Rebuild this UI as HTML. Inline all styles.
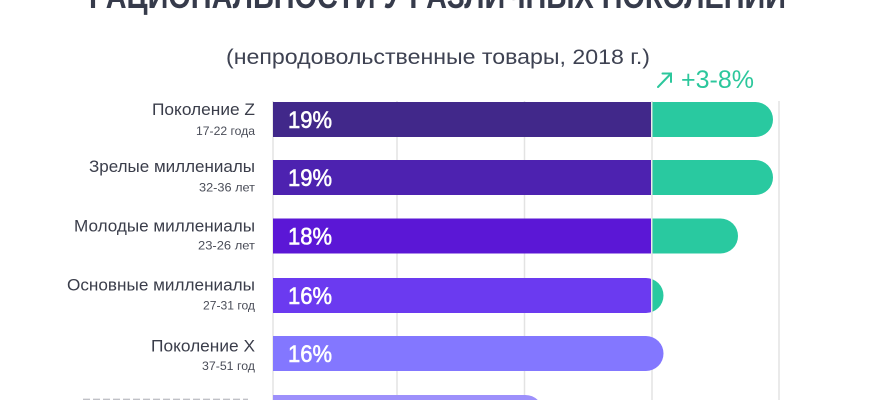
<!DOCTYPE html>
<html><head><meta charset="utf-8">
<style>
html,body{margin:0;padding:0;background:#fff;width:870px;height:400px;overflow:hidden;}
svg{display:block;overflow:hidden;}
text{font-family:"Liberation Sans","DejaVu Sans",sans-serif;}
</style></head>
<body>
<svg width="870" height="400" viewBox="0 0 870 400" xmlns="http://www.w3.org/2000/svg">
<defs>
<clipPath id="c1"><path d="M273,102 H755.5 A17.5,17.5 0 0 1 755.5,137 H273 Z"/></clipPath>
<clipPath id="c2"><path d="M273,160 H755.5 A17.5,17.5 0 0 1 755.5,195 H273 Z"/></clipPath>
<clipPath id="c3"><path d="M273,218.5 H720.5 A17.5,17.5 0 0 1 720.5,253.5 H273 Z"/></clipPath>
<clipPath id="c4"><path d="M273,278 H646 A17.5,17.5 0 0 1 646,313 H273 Z"/></clipPath>
</defs>

<!-- title (cut off) -->
<text x="89" y="8" font-size="34" font-weight="bold" fill="#363b4b" textLength="697" lengthAdjust="spacingAndGlyphs">РАЦИОНАЛЬНОСТИ У РАЗЛИЧНЫХ ПОКОЛЕНИЙ</text>
<!-- subtitle -->
<text x="226" y="64" font-size="21" fill="#3e4252" textLength="424" lengthAdjust="spacingAndGlyphs">(непродовольственные товары, 2018 г.)</text>

<!-- green header -->
<g stroke="#2cc79c" stroke-width="2" fill="none" stroke-linecap="round">
<line x1="658" y1="87" x2="671" y2="73.5"/>
<polyline points="662.5,73.5 671,73.5 671,82"/>
</g>
<text x="681" y="88" font-size="25" fill="#2cc79c" textLength="73" lengthAdjust="spacingAndGlyphs">+3-8%</text>

<!-- grid lines -->
<g stroke="#e3e3e3" stroke-width="1.5">
<line x1="273" y1="101" x2="273" y2="400"/>
<line x1="397" y1="101" x2="397" y2="400"/>
<line x1="524.5" y1="101" x2="524.5" y2="400"/>
<line x1="652" y1="101" x2="652" y2="400"/>
<line x1="779" y1="101" x2="779" y2="400"/>
</g>

<!-- bars -->
<g clip-path="url(#c1)">
<rect x="273" y="102" width="378" height="35" fill="#41288a"/>
<rect x="652.5" y="102" width="130" height="35" fill="#29c9a0"/>
</g>
<g clip-path="url(#c2)">
<rect x="273" y="160" width="378" height="35" fill="#4d22b0"/>
<rect x="652.5" y="160" width="130" height="35" fill="#29c9a0"/>
</g>
<g clip-path="url(#c3)">
<rect x="273" y="218.5" width="378" height="35" fill="#5b17d6"/>
<rect x="652.5" y="218.5" width="100" height="35" fill="#29c9a0"/>
</g>
<g clip-path="url(#c4)">
<rect x="273" y="278" width="378" height="35" fill="#6b3af0"/>
<rect x="652.5" y="278" width="30" height="35" fill="#29c9a0"/>
</g>
<path d="M273,336 H646 A17.5,17.5 0 0 1 646,371 H273 Z" fill="#8377ff"/>
<path d="M273,395 H525.5 A17.5,17.5 0 0 1 537.75,400 H273 Z" fill="#9d90fb"/>

<!-- percent labels -->
<g font-size="24" fill="#ffffff" stroke="#ffffff" stroke-width="0.6">
<text x="288" y="128" textLength="44" lengthAdjust="spacingAndGlyphs">19%</text>
<text x="288" y="186" textLength="44" lengthAdjust="spacingAndGlyphs">19%</text>
<text x="288" y="244.5" textLength="44" lengthAdjust="spacingAndGlyphs">18%</text>
<text x="288" y="304" textLength="44" lengthAdjust="spacingAndGlyphs">16%</text>
<text x="288" y="362" textLength="44" lengthAdjust="spacingAndGlyphs">16%</text>
</g>

<!-- row labels -->
<g font-size="16.5" fill="#3a3d4a" text-anchor="end">
<text x="255" y="115" textLength="103" lengthAdjust="spacingAndGlyphs">Поколение Z</text>
<text x="255" y="172" textLength="166" lengthAdjust="spacingAndGlyphs">Зрелые миллениалы</text>
<text x="255" y="231.5" textLength="181" lengthAdjust="spacingAndGlyphs">Молодые миллениалы</text>
<text x="255" y="290.7" textLength="188" lengthAdjust="spacingAndGlyphs">Основные миллениалы</text>
<text x="255" y="351.7" textLength="104" lengthAdjust="spacingAndGlyphs">Поколение X</text>
</g>
<!-- sliver of cut-off label "Старшее поколение" -->
<line x1="83" y1="399.3" x2="248" y2="399.3" stroke="#8e909a" stroke-width="1.4" stroke-dasharray="7,3" opacity="0.55"/>
<g font-size="12" fill="#4a4d58" text-anchor="end">
<text x="255" y="135" textLength="59" lengthAdjust="spacingAndGlyphs">17-22 года</text>
<text x="255" y="191.5" textLength="56" lengthAdjust="spacingAndGlyphs">32-36 лет</text>
<text x="255" y="249.5" textLength="57" lengthAdjust="spacingAndGlyphs">23-26 лет</text>
<text x="255" y="309.3" textLength="52" lengthAdjust="spacingAndGlyphs">27-31 год</text>
<text x="255" y="370" textLength="53" lengthAdjust="spacingAndGlyphs">37-51 год</text>
</g>
</svg>
</body></html>
